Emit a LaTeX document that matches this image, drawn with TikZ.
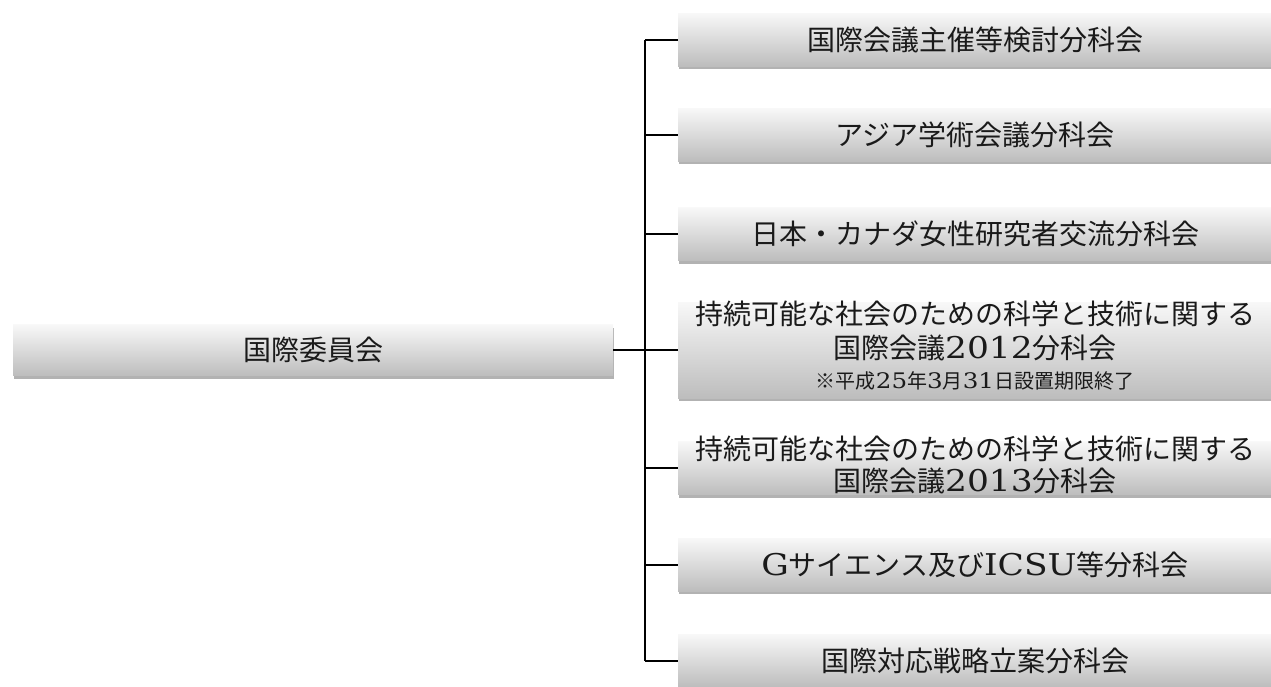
\documentclass[tikz,border=0pt]{standalone}
\usepackage{fontspec}
\setmainfont[FakeStretch=1.15, Scale=1.07]{DejaVu Serif}
\newfontfamily\jp{Noto Sans CJK JP}
\usetikzlibrary{shadows}
\definecolor{boxtop}{HTML}{F8F8F8}
\definecolor{boxbot}{HTML}{BDBDBD}
\definecolor{txt}{HTML}{1A1A1A}
\newcommand{\J}[1]{{\jp #1}}
\begin{document}
\begin{tikzpicture}[x=1pt,y=-1pt,
  box/.style={rectangle, inner sep=0pt, minimum height=53pt, minimum width=594pt,
    top color=boxtop, bottom color=boxbot, draw=none,
    drop shadow={shadow xshift=1pt, shadow yshift=-3pt, opacity=0.3, fill=black},
    text=txt, font=\fontsize{28}{33}\selectfont},
  lbl/.style={inner sep=0pt, text=txt, font=\fontsize{28}{33}\selectfont},
  note/.style={inner sep=0pt, text=txt, font=\fontsize{20}{24}\selectfont},
  conn/.style={draw=black, line width=2pt}]
\useasboundingbox (0,0) rectangle (1271,686);
% root
\node[box, minimum width=600pt, minimum height=51pt] (root) at (313,350) {\J{国際委員会}};
% children
\node[box] (c1) at (975,39.5) {\J{国際会議主催等検討分科会}};
\node[box] (c2) at (975,134.5) {\J{アジア学術会議分科会}};
\node[box] (c3) at (975,234) {\J{日本・カナダ女性研究者交流分科会}};
\node[box, minimum height=96pt] (c4) at (975,350) {};
\node[box] (c5) at (975,468) {};
\node[box] (c6) at (975,564.5) {G\J{サイエンス及び}ICSU\J{等分科会}};
\node[box] (c7) at (975,660.5) {\J{国際対応戦略立案分科会}};
% texts of the two-line boxes
\node[lbl] (t4a) at (975,314) {\J{持続可能な社会のための科学と技術に関する}};
\node[lbl] (t4b) at (975,348) {\J{国際会議}2012\J{分科会}};
\node[note] (t4c) at (975,381) {\J{※平成}25\J{年}3\J{月}31\J{日設置期限終了}};
\node[lbl] (t5a) at (975,449) {\J{持続可能な社会のための科学と技術に関する}};
\node[lbl] (t5b) at (975,481) {\J{国際会議}2013\J{分科会}};
% connectors
\coordinate (j) at (645,350);
\draw[conn] (root.east) -- (j);
\draw[conn] (j |- c1.west) -- (j |- c7.west);
\foreach \i in {1,...,7}{
  \draw[conn] (j |- c\i.west) -- (c\i.west);
}
\end{tikzpicture}
\end{document}
